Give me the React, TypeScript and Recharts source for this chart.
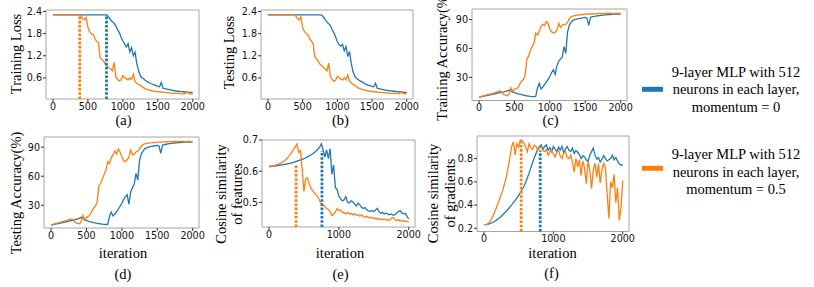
import { LineChart, Line, XAxis, YAxis, ReferenceArea, ReferenceLine } from 'recharts';

const BLUE = '#1f77b4';
const ORANGE = '#ff7f0e';

const iterations = [
  0, 25, 50, 75, 100, 125, 150, 175, 200, 225,
  250, 275, 300, 325, 350, 375, 400, 425, 450, 475,
  500, 525, 550, 575, 600, 625, 650, 675, 700, 725,
  750, 775, 800, 825, 850, 875, 900, 925, 950, 975,
  1000, 1025, 1050, 1075, 1100, 1125, 1150, 1175, 1200, 1225,
  1250, 1275, 1300, 1325, 1350, 1375, 1400, 1425, 1450, 1475,
  1500, 1525, 1550, 1575, 1600, 1625, 1650, 1675, 1700, 1725,
  1750, 1775, 1800, 1825, 1850, 1875, 1900, 1925, 1950, 1975,
  2000,
];

// (a) training loss
const trainLossM0 = [
  2.31, 2.31, 2.31, 2.31, 2.31, 2.31, 2.31, 2.31, 2.31, 2.31,
  2.31, 2.31, 2.31, 2.31, 2.31, 2.31, 2.31, 2.31, 2.31, 2.31,
  2.31, 2.31, 2.31, 2.31, 2.31, 2.31, 2.31, 2.31, 2.31, 2.31,
  2.31, 2.30, 2.24, 2.17, 2.12, 2.08, 2.01, 1.90, 1.83, 1.70,
  1.60, 1.52, 1.44, 1.53, 1.30, 1.42, 1.20, 1.30, 0.98, 0.80,
  0.66, 0.60, 0.57, 0.53, 0.50, 0.47, 0.45, 0.43, 0.41, 0.39,
  0.37, 0.36, 0.48, 0.32, 0.31, 0.30, 0.29, 0.28, 0.27, 0.26,
  0.25, 0.24, 0.24, 0.23, 0.23, 0.22, 0.22, 0.21, 0.21, 0.21,
  0.20,
];
const trainLossM5 = [
  2.31, 2.31, 2.31, 2.31, 2.31, 2.31, 2.31, 2.31, 2.31, 2.31,
  2.31, 2.31, 2.31, 2.31, 2.31, 2.31,
  2.29, 2.20, 2.18, 2.24, 1.97, 1.85, 1.79, 1.78, 1.66, 1.59,
  1.55, 1.15, 1.10, 1.06, 0.96, 0.92, 0.87, 0.85, 0.80, 1.02,
  0.62, 0.56, 0.52, 0.55, 0.66, 0.60, 0.58, 0.55, 0.60, 0.56,
  0.70, 0.50, 0.45, 0.43, 0.40, 0.36, 0.33, 0.30, 0.29, 0.27,
  0.26, 0.25, 0.24, 0.23, 0.23, 0.22, 0.22, 0.21, 0.21, 0.20,
  0.20, 0.19, 0.19, 0.19, 0.18, 0.18, 0.18, 0.17, 0.17, 0.17,
  0.18, 0.23, 0.17, 0.16, 0.16,
];

// (b) testing loss
const testLossM0 = [
  2.31, 2.31, 2.31, 2.31, 2.31, 2.31, 2.31, 2.31, 2.31, 2.31,
  2.31, 2.31, 2.31, 2.31, 2.31, 2.31, 2.31, 2.31, 2.31, 2.31,
  2.31, 2.31, 2.31, 2.31, 2.31, 2.31, 2.31, 2.31, 2.31, 2.31,
  2.31, 2.30, 2.25, 2.18, 2.11, 2.07, 2.02, 1.91, 1.82, 1.71,
  1.58, 1.50, 1.46, 1.51, 1.33, 1.45, 1.18, 1.32, 1.00, 0.78,
  0.65, 0.59, 0.56, 0.52, 0.50, 0.47, 0.44, 0.42, 0.40, 0.39,
  0.37, 0.36, 0.46, 0.32, 0.31, 0.30, 0.29, 0.28, 0.27, 0.26,
  0.25, 0.25, 0.24, 0.24, 0.23, 0.23, 0.22, 0.22, 0.21, 0.21,
  0.21,
];
const testLossM5 = [
  2.31, 2.31, 2.31, 2.31, 2.31, 2.31, 2.31, 2.31, 2.31, 2.31,
  2.31, 2.31, 2.31, 2.31, 2.31, 2.31,
  2.28, 2.21, 2.17, 2.25, 1.95, 1.86, 1.80, 1.77, 1.67, 1.60,
  1.54, 1.17, 1.12, 1.05, 0.97, 0.93, 0.88, 0.84, 0.79, 1.00,
  0.63, 0.57, 0.51, 0.54, 0.64, 0.61, 0.57, 0.54, 0.61, 0.55,
  0.68, 0.51, 0.46, 0.43, 0.40, 0.36, 0.33, 0.31, 0.29, 0.28,
  0.27, 0.26, 0.25, 0.24, 0.23, 0.23, 0.22, 0.22, 0.21, 0.21,
  0.20, 0.20, 0.19, 0.19, 0.19, 0.18, 0.18, 0.18, 0.18, 0.17,
  0.18, 0.22, 0.17, 0.17, 0.17,
];

// (c) training accuracy (%)
const trainAccM0 = [
  9.5, 9.8, 10.2, 10.6, 11, 11.4, 11.8, 12.2, 12.6, 13,
  13.4, 13.8, 14.2, 14.6, 15, 15.5, 16, 17, 16, 15,
  14.2, 13.6, 13, 12.5, 12, 11.6, 11.2, 10.9, 10.6, 10.3,
  10.1, 10, 10.2, 19, 24, 18, 20, 22.5, 25, 28,
  31, 35, 38, 33, 42, 47, 49, 51, 62, 55,
  77, 84, 87, 89.5, 90, 90.5, 91, 91.3, 91.5, 92,
  92.2, 91.5, 84, 92.5, 93, 93.3, 93.6, 94, 94.2, 94.4,
  94.6, 94.8, 95, 95.1, 95.2, 95.4, 95.5, 95.6, 95.7, 95.6,
  95.8,
];
const trainAccM5 = [
  9.5, 10, 10.5, 11, 11.5, 12, 12.5, 13, 13.5, 14,
  15, 15.5, 15.8, 14, 12, 11.5, 11, 12.5, 19, 15,
  18, 18, 19.5, 23, 26, 28, 32, 49, 52, 58,
  62, 65, 76, 74, 78, 83, 85, 84, 88, 86,
  80, 77, 76, 77, 79, 86, 82, 84, 85, 85,
  87, 91, 93, 93.5, 94, 94.5, 95, 95, 95.5, 95.3,
  95.6, 95.8, 96, 95.8, 96, 96.2, 96, 96.3, 96.4, 96.2,
  96.5, 96.3, 96.5, 96.6, 96.4, 96.6, 95.5, 96.6, 96.7, 96.5,
  96.6,
];

// (d) testing accuracy (%)
const testAccM0 = [
  9.5, 9.9, 10.3, 10.7, 11.1, 11.5, 11.9, 12.3, 12.7, 13.1,
  13.5, 13.9, 14.3, 14.8, 15.3, 15.8, 16.5, 17.5, 16.3, 15.2,
  14.4, 13.7, 13.1, 12.6, 12.1, 11.7, 11.3, 11, 10.7, 10.4,
  10.2, 10.1, 10.3, 18.5, 23, 19, 21, 23, 26, 29,
  32, 36, 39, 41, 31, 44, 48, 52, 63, 56,
  76, 83, 86, 88.5, 89.3, 90, 90.5, 91, 91.2, 91.6,
  91.9, 91.2, 83.5, 92.2, 92.6, 93, 93.3, 93.6, 93.9, 94.1,
  94.3, 94.5, 94.7, 94.8, 95, 95.1, 95.2, 95.3, 95.4, 95.3,
  95.5,
];
const testAccM5 = [
  9.5, 10.2, 10.8, 11.3, 11.8, 12.4, 12.9, 13.4, 13.8, 14.3,
  15.2, 15.6, 15.4, 13.5, 11.8, 11.2, 10.8, 13, 19.5, 14.5,
  17.5, 18.5, 20, 23.5, 27, 29, 33, 50, 53, 57,
  62, 66, 75, 73, 79, 82, 86, 83, 88, 85,
  80, 76, 75, 77, 80, 87, 82, 83, 85, 86,
  88, 91, 93, 93.3, 93.8, 94.2, 94.5, 94.6, 95, 94.8,
  95.1, 95.3, 95.4, 95.2, 95.5, 95.6, 95.4, 95.7, 95.8, 95.6,
  95.9, 95.7, 95.9, 96, 95.8, 96, 94.8, 96, 96.1, 95.8,
  96,
];

// (e) cosine similarity of features
const featSimM0 = [
  0.615, 0.615, 0.616, 0.616, 0.617, 0.618, 0.619, 0.620, 0.621, 0.622,
  0.623, 0.624, 0.625, 0.627, 0.628, 0.630, 0.632, 0.634, 0.636, 0.638,
  0.640, 0.643, 0.646, 0.649, 0.652, 0.656, 0.660, 0.665, 0.670, 0.677,
  0.688, 0.668, 0.645, 0.668, 0.640, 0.672, 0.590, 0.620, 0.548, 0.540,
  0.520, 0.512, 0.505, 0.508, 0.518, 0.500, 0.498, 0.505, 0.502, 0.495,
  0.488, 0.498, 0.492, 0.484, 0.480, 0.483, 0.476, 0.472, 0.471, 0.474,
  0.470, 0.476, 0.481, 0.470, 0.465, 0.468, 0.463, 0.466, 0.462, 0.460,
  0.463, 0.459, 0.460, 0.465, 0.470, 0.474, 0.466, 0.463, 0.465, 0.455,
  0.447,
];
const featSimM5 = [
  0.615, 0.616, 0.617, 0.618, 0.620, 0.622, 0.624, 0.627, 0.630, 0.634,
  0.639, 0.645, 0.652, 0.660, 0.669, 0.678, 0.687, 0.660, 0.666, 0.608,
  0.535, 0.575, 0.578, 0.560, 0.545, 0.538, 0.530, 0.524, 0.518, 0.505,
  0.495, 0.492, 0.487, 0.480, 0.478, 0.470, 0.458, 0.462, 0.470, 0.480,
  0.474, 0.475, 0.468, 0.466, 0.463, 0.468, 0.462, 0.465, 0.460, 0.464,
  0.458, 0.461, 0.456, 0.460, 0.455, 0.452, 0.456, 0.450, 0.453, 0.448,
  0.451, 0.447, 0.449, 0.445, 0.447, 0.444, 0.446, 0.443, 0.445, 0.442,
  0.448, 0.452, 0.445, 0.442, 0.444, 0.440, 0.442, 0.439, 0.441, 0.438,
  0.438,
];

// (f) cosine similarity of gradients
const gradSimM0 = [
  0.232, 0.232, 0.234, 0.238, 0.243, 0.250, 0.258, 0.268, 0.279, 0.291,
  0.304, 0.318, 0.333, 0.349, 0.366, 0.384, 0.402, 0.421, 0.441, 0.462,
  0.484, 0.507, 0.532, 0.560, 0.595, 0.635, 0.675, 0.720, 0.765, 0.805,
  0.845, 0.880, 0.905, 0.918, 0.880, 0.905, 0.918, 0.872, 0.895, 0.860,
  0.905, 0.880, 0.862, 0.898, 0.875, 0.905, 0.848, 0.885, 0.905, 0.870,
  0.862, 0.890, 0.845, 0.870, 0.855, 0.835, 0.800, 0.825, 0.815, 0.790,
  0.775, 0.830, 0.860, 0.890, 0.830, 0.795, 0.810, 0.770, 0.795, 0.825,
  0.800, 0.780, 0.790, 0.800, 0.830, 0.790, 0.810, 0.780, 0.755, 0.745,
  0.745,
];
const gradSimM5 = [
  0.232, 0.232, 0.236, 0.250, 0.272, 0.300, 0.333, 0.370, 0.410, 0.450,
  0.492, 0.535, 0.590, 0.650, 0.730, 0.815, 0.905, 0.945, 0.830, 0.930,
  0.900, 0.960, 0.955, 0.935, 0.900, 0.860, 0.930, 0.895, 0.880, 0.915,
  0.905, 0.870, 0.895, 0.900, 0.870, 0.860, 0.880, 0.830, 0.860, 0.872,
  0.840, 0.815, 0.860, 0.870, 0.820, 0.800, 0.850, 0.860, 0.810, 0.800,
  0.830, 0.770, 0.685, 0.800, 0.728, 0.790, 0.656, 0.780, 0.720, 0.584,
  0.780, 0.700, 0.540, 0.700, 0.760, 0.640, 0.757, 0.590, 0.700, 0.760,
  0.720, 0.500, 0.285, 0.600, 0.550, 0.665, 0.420, 0.550, 0.268, 0.380,
  0.612,
];

const lossTicks = [0.6, 1.2, 1.8, 2.4];
const accTicks = [30, 60, 90];
const featTicks = [0.5, 0.6, 0.7];
const gradTicks = [0.2, 0.4, 0.6, 0.8];
const iterTicksFine = [0, 500, 1000, 1500, 2000];
const iterTicksCoarse = [0, 1000, 2000];

// dotted markers: iteration where each run takes off, and how high the marker reaches
const lossMarkers = [
  { it: 383, top: 2.31, color: ORANGE },
  { it: 766, top: 2.31, color: BLUE },
];
const featMarkers = [
  { it: 388, top: 0.62, color: ORANGE },
  { it: 758, top: 0.665, color: BLUE },
];
const gradMarkers = [
  { it: 536, top: 0.95, color: ORANGE },
  { it: 811, top: 0.87, color: BLUE },
];

const X_DOMAIN = [-100, 2090];
const tickStyle = { fontSize: 9.6, fill: '#111', fontFamily: 'DejaVu Sans' };
const serifStyle = { fontFamily: '"Liberation Serif", "Times New Roman", "DejaVu Serif", serif', fontSize: 14.5 };

type Marker = { it: number; top: number; color: string };

function Panel(props: {
  box: number[];
  m0: number[];
  m5: number[];
  yDomain: number[];
  yTicks: number[];
  xTicks: number[];
  markers?: Marker[];
}) {
  const { box, m0, m5, yDomain, yTicks, xTicks, markers = [] } = props;
  const [x0, y0, x1, y1] = box;
  const rows = iterations.map((it, i) => ({ it, m0: m0[i], m5: m5[i] }));
  const yAxisW = 30;
  const xAxisH = 20;
  const padTop = 9;
  const padRight = 18;
  return (
    <div style={{ position: 'absolute', left: x0 - yAxisW, top: y0 - padTop }}>
      <LineChart
        width={x1 - x0 + yAxisW + padRight}
        height={y1 - y0 + padTop + xAxisH}
        data={rows}
        margin={{ top: padTop, right: padRight, bottom: 0, left: 0 }}
      >
        <XAxis
          dataKey="it"
          type="number"
          domain={X_DOMAIN}
          ticks={xTicks}
          interval={0}
          height={xAxisH}
          axisLine={false}
          tickSize={3}
          tickMargin={1}
          tickLine={{ stroke: '#333' }}
          tick={tickStyle}
          allowDataOverflow
        />
        <YAxis
          type="number"
          domain={yDomain}
          ticks={yTicks}
          interval={0}
          width={yAxisW}
          axisLine={false}
          tickSize={3}
          tickMargin={1}
          tickLine={{ stroke: '#333' }}
          tick={tickStyle}
          allowDataOverflow
        />
        <ReferenceArea
          x1={X_DOMAIN[0]}
          x2={X_DOMAIN[1]}
          y1={yDomain[0]}
          y2={yDomain[1]}
          fill="none"
          stroke="#a6a6a6"
          strokeWidth={1}
          ifOverflow="visible"
        />
        <Line type="linear" dataKey="m0" stroke={BLUE} strokeWidth={1.3} dot={false} isAnimationActive={false} />
        <Line type="linear" dataKey="m5" stroke={ORANGE} strokeWidth={1.3} dot={false} isAnimationActive={false} />
        {markers.map((m, i) => (
          <ReferenceLine
            key={i}
            segment={[
              { x: m.it, y: yDomain[0] },
              { x: m.it, y: m.top },
            ]}
            stroke={m.color}
            strokeWidth={2.8}
            strokeDasharray="2.6 1.6"
            ifOverflow="visible"
          />
        ))}
      </LineChart>
    </div>
  );
}

function VLabel({ x, y, text }: { x: number; y: number; text: string }) {
  return (
    <text transform={`translate(${x},${y}) rotate(-90)`} textAnchor="middle" dominantBaseline="central" style={serifStyle}>
      {text}
    </text>
  );
}

function HLabel({ x, y, text }: { x: number; y: number; text: string }) {
  return (
    <text x={x} y={y} textAnchor="middle" dominantBaseline="central" style={serifStyle}>
      {text}
    </text>
  );
}

export default function App() {
  return (
    <div style={{ position: 'absolute', left: 0, top: 0, width: 814, height: 287, background: '#fff', overflow: 'hidden' }}>
      <Panel box={[46, 10, 199, 99]} m0={trainLossM0} m5={trainLossM5} yDomain={[0.03, 2.44]} yTicks={lossTicks} xTicks={iterTicksFine} markers={lossMarkers} />
      <Panel box={[261, 10, 413, 99]} m0={testLossM0} m5={testLossM5} yDomain={[0.03, 2.44]} yTicks={lossTicks} xTicks={iterTicksFine} />
      <Panel box={[472, 8.5, 627, 100]} m0={trainAccM0} m5={trainAccM5} yDomain={[6, 101]} yTicks={accTicks} xTicks={iterTicksFine} />
      <Panel box={[44, 137, 199, 228]} m0={testAccM0} m5={testAccM5} yDomain={[6.5, 100.5]} yTicks={accTicks} xTicks={iterTicksFine} />
      <Panel box={[262, 140, 415, 227]} m0={featSimM0} m5={featSimM5} yDomain={[0.421, 0.7]} yTicks={featTicks} xTicks={iterTicksCoarse} markers={featMarkers} />
      <Panel box={[477, 135.5, 629, 231]} m0={gradSimM0} m5={gradSimM5} yDomain={[0.172, 0.995]} yTicks={gradTicks} xTicks={iterTicksCoarse} markers={gradMarkers} />

      <svg
        width={814}
        height={287}
        style={{ position: 'absolute', left: 0, top: 0, pointerEvents: 'none' }}
        fill="#000"
      >
        <VLabel x={16} y={54} text="Training Loss" />
        <VLabel x={229} y={52.5} text="Testing Loss" />
        <VLabel x={441.5} y={56} text="Training Accuracy(%)" />
        <VLabel x={15.5} y={193} text="Testing Accuracy(%)" />
        <VLabel x={221} y={194} text="Cosine similarity" />
        <VLabel x={237} y={194} text="of features" />
        <VLabel x={433} y={193.5} text="Cosine similarity" />
        <VLabel x={450} y={193} text="of gradients" />

        <HLabel x={123} y={253} text="iteration" />
        <HLabel x={340} y={253} text="iteration" />
        <HLabel x={552.5} y={253} text="iteration" />

        <HLabel x={123.5} y={119.5} text="(a)" />
        <HLabel x={340.5} y={119.5} text="(b)" />
        <HLabel x={550.5} y={120} text="(c)" />
        <HLabel x={123} y={274} text="(d)" />
        <HLabel x={340.5} y={274} text="(e)" />
        <HLabel x={551.5} y={272.5} text="(f)" />

        <rect x={642} y={86.8} width={21} height={5} fill={BLUE} />
        <HLabel x={736} y={71.7} text="9-layer MLP with 512" />
        <HLabel x={736} y={89.3} text="neurons in each layer," />
        <HLabel x={736} y={107.3} text="momentum = 0" />

        <rect x={642} y={165.8} width={21} height={5} fill={ORANGE} />
        <HLabel x={736} y={154} text="9-layer MLP with 512" />
        <HLabel x={736} y={171.7} text="neurons in each layer," />
        <HLabel x={736} y={189.3} text="momentum = 0.5" />
      </svg>
    </div>
  );
}
